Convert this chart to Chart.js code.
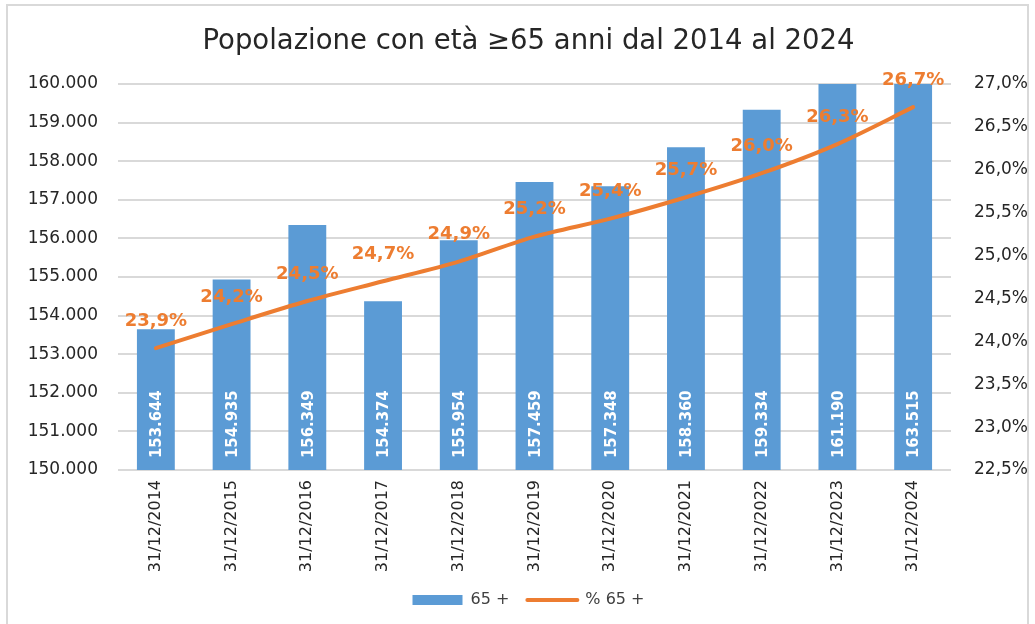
<!DOCTYPE html>
<html>
<head>
<meta charset="utf-8">
<script src="https://cdn.jsdelivr.net/npm/chart.js@4"></script>
<style>
  html, body { margin: 0; padding: 0; background: #fff; }
  #wrap { width: 1035px; height: 624px; }
</style>
</head>
<body>
<div id="wrap"><canvas id="chart" width="1035" height="624"></canvas></div>
<script>
const categories = ["31/12/2014", "31/12/2015", "31/12/2016", "31/12/2017", "31/12/2018", "31/12/2019",
  "31/12/2020", "31/12/2021", "31/12/2022", "31/12/2023", "31/12/2024"];
const over65 = [153644, 154935, 156349, 154374, 155954, 157459, 157348, 158360, 159334, 161190, 163515];
const pctOver65 = [23.92, 24.2, 24.47, 24.7, 24.93, 25.22, 25.43, 25.68, 25.96, 26.3, 26.73];
const leftTicks = [150000, 151000, 152000, 153000, 154000, 155000, 156000, 157000, 158000, 159000, 160000];
const rightTicks = [22.5, 23, 23.5, 24, 24.5, 25, 25.5, 26, 26.5, 27];

const BLUE = "#5B9BD5";
const ORANGE = "#ED7D31";
const FONT = "'DejaVu Sans', Verdana, sans-serif";

function thousands(v) {
  return String(Math.round(v)).replace(/\B(?=(\d{3})+(?!\d))/g, ".");
}
function pct(v) {
  return (Math.round(v * 10) / 10).toFixed(1).replace(".", ",") + "%";
}

// light grey border round the whole chart
const frame = {
  id: "frame",
  beforeDraw(chart) {
    const ctx = chart.ctx;
    ctx.save();
    ctx.strokeStyle = "#d9d9d9";
    ctx.lineWidth = 2;
    ctx.strokeRect(7, 5, 1021, 640);
    ctx.restore();
  },
};

const labels = {
  id: "labels",
  afterDatasetsDraw(chart) {
    const ctx = chart.ctx;
    const base = chart.scales.y.bottom;
    ctx.save();
    // bar values, written upward inside each bar
    ctx.fillStyle = "#fff";
    ctx.font = "bold 16.5px 'DejaVu Sans Condensed', 'DejaVu Sans', sans-serif";
    ctx.textAlign = "left";
    ctx.textBaseline = "middle";
    chart.getDatasetMeta(0).data.forEach((bar, i) => {
      ctx.save();
      ctx.translate(bar.x, base - 12);
      ctx.rotate(-Math.PI / 2);
      ctx.fillText(thousands(over65[i]), 0, 1);
      ctx.restore();
    });
    // percentages above the line
    ctx.fillStyle = ORANGE;
    ctx.font = "bold 18px " + FONT;
    ctx.textAlign = "center";
    chart.getDatasetMeta(1).data.forEach((pt, i) => {
      ctx.fillText(pct(pctOver65[i]), pt.x, pt.y - 27);
    });
    ctx.restore();
  },
};

new Chart(document.getElementById("chart"), {
  data: {
    labels: categories,
    datasets: [
      {
        type: "bar", label: "65 +", data: over65, backgroundColor: BLUE,
        yAxisID: "y", order: 1, barPercentage: 0.5, categoryPercentage: 1,
      },
      {
        type: "line", label: "% 65 +", data: pctOver65, borderColor: ORANGE, backgroundColor: ORANGE,
        borderWidth: 4, borderCapStyle: "round", pointRadius: 0, tension: 0.3, yAxisID: "y1", order: 0,
      },
    ],
  },
  options: {
    responsive: false,
    animation: false,
    layout: { padding: { left: 22, right: 0, top: 0, bottom: 6 } },
    plugins: {
      tooltip: { enabled: false },
      title: {
        display: true,
        text: "Popolazione con età ≥65 anni dal 2014 al 2024",
        color: "#262626",
        font: { family: FONT, size: 27.5, weight: "normal" },
        padding: { top: 25, bottom: 26 },
      },
      legend: {
        position: "bottom",
        labels: {
          color: "#404040",
          font: { family: FONT, size: 16 },
          usePointStyle: true, pointStyleWidth: 50, boxHeight: 10, padding: 18,
          sort: (a, b) => a.datasetIndex - b.datasetIndex,
          generateLabels(chart) {
            const items = Chart.defaults.plugins.legend.labels.generateLabels(chart);
            items.forEach((it) => {
              if (it.datasetIndex === 0) { it.pointStyle = "rect"; it.lineWidth = 0; }
              else { it.pointStyle = "line"; it.lineWidth = 4; it.lineCap = "round"; }
            });
            return items;
          },
        },
      },
    },
    scales: {
      x: {
        grid: { display: false, drawTicks: false },
        border: { display: false },
        ticks: { color: "#262626", font: { family: FONT, size: 16 }, minRotation: 90, maxRotation: 90, padding: 10 },
        afterFit(scale) { scale.height = 104; },
      },
      y: {
        position: "left", min: 150000, max: 160000,
        afterBuildTicks(scale) { scale.ticks = leftTicks.map((v) => ({ value: v })); },
        grid: { color: "#d9d9d9", lineWidth: 2, drawTicks: false },
        border: { display: false },
        ticks: { color: "#262626", font: { family: FONT, size: 17 }, padding: 20, callback: (v) => thousands(v) },
        afterFit(scale) { scale.width = 96; },
      },
      y1: {
        position: "right", min: 22.5, max: 27,
        afterBuildTicks(scale) { scale.ticks = rightTicks.map((v) => ({ value: v })); },
        grid: { display: false, drawTicks: false },
        border: { display: false },
        ticks: { color: "#262626", font: { family: FONT, size: 17 }, padding: 23, callback: (v) => pct(v) },
        afterFit(scale) { scale.width = 84; },
      },
    },
  },
  plugins: [frame, labels],
});
</script>
</body>
</html>
